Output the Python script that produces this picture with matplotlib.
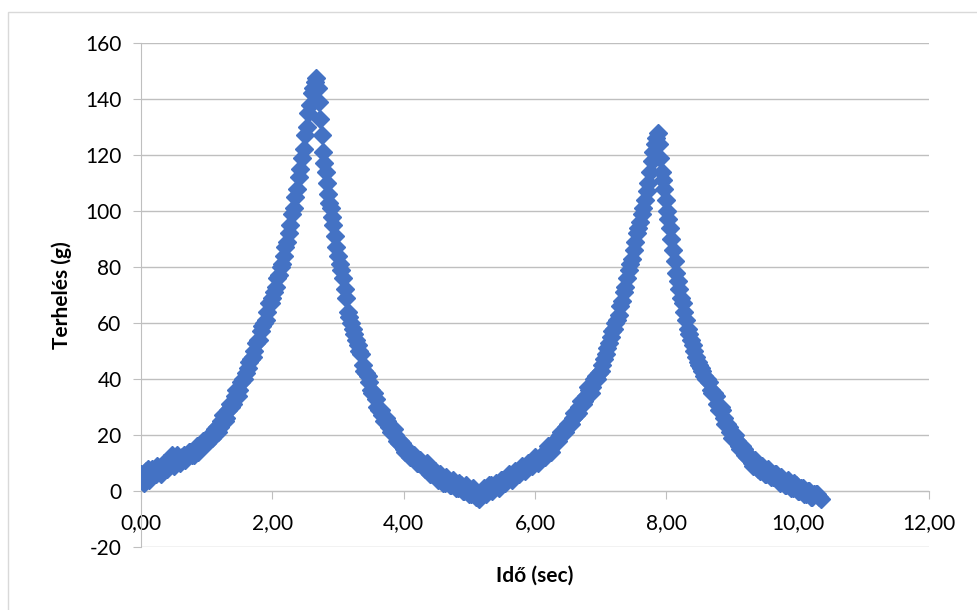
import matplotlib
matplotlib.use('Agg')
import matplotlib.pyplot as plt
from matplotlib.ticker import FuncFormatter, MultipleLocator

# Time (sec) and load (g)
ido = [
    0.00, 0.05, 0.10, 0.15, 0.20, 0.25, 0.30, 0.35, 0.40, 0.45,
    0.50, 0.55, 0.60, 0.65, 0.70, 0.75, 0.80, 0.85, 0.90, 0.95,
    1.00, 1.05, 1.10, 1.15, 1.20, 1.25, 1.30, 1.35, 1.40, 1.45,
    1.50, 1.55, 1.60, 1.65, 1.70, 1.75, 1.80, 1.85, 1.90, 1.95,
    2.000, 2.025, 2.050, 2.075, 2.100, 2.125, 2.150, 2.175, 2.200, 2.225,
    2.250, 2.275, 2.300, 2.325, 2.350, 2.375, 2.400, 2.425, 2.450, 2.475,
    2.500, 2.525, 2.550, 2.575, 2.600, 2.625, 2.650, 2.670,
    2.690, 2.710, 2.730, 2.750, 2.770, 2.790, 2.810, 2.830, 2.850, 2.870,
    2.890, 2.910, 2.930, 2.950, 2.975, 3.000, 3.025, 3.050, 3.075, 3.100,
    3.125, 3.150, 3.175, 3.200, 3.225, 3.250, 3.275, 3.300,
    3.35, 3.40, 3.45, 3.50, 3.55, 3.60, 3.65, 3.70, 3.75, 3.80,
    3.85, 3.90, 3.95, 4.00, 4.05, 4.10, 4.15, 4.20, 4.25, 4.30,
    4.35, 4.40, 4.45, 4.50, 4.55, 4.60, 4.65, 4.70, 4.75, 4.80,
    4.85, 4.90, 4.95, 5.00, 5.05, 5.10, 5.15, 5.20, 5.25, 5.30,
    5.35, 5.40, 5.45, 5.50, 5.55, 5.60, 5.65, 5.70, 5.75, 5.80,
    5.85, 5.90, 5.95, 6.00, 6.05, 6.10, 6.15, 6.20, 6.25, 6.30,
    6.35, 6.40, 6.45, 6.50, 6.55, 6.60, 6.65, 6.70, 6.75, 6.80,
    6.85, 6.90, 6.95,
    7.000, 7.025, 7.050, 7.075, 7.100, 7.125, 7.150, 7.175, 7.200, 7.225,
    7.250, 7.275, 7.300, 7.325, 7.350, 7.375, 7.400, 7.425, 7.450, 7.475,
    7.500, 7.525, 7.550, 7.575, 7.600, 7.625, 7.650, 7.675, 7.700, 7.725,
    7.750, 7.775, 7.800, 7.825, 7.850, 7.870,
    7.890, 7.910, 7.930, 7.950, 7.970, 7.990, 8.010, 8.030, 8.050, 8.075,
    8.100, 8.125, 8.150, 8.175, 8.200, 8.225, 8.250, 8.275, 8.300, 8.325,
    8.350, 8.375, 8.400, 8.425, 8.450, 8.475, 8.500,
    8.55, 8.60, 8.65, 8.70, 8.75, 8.80, 8.85, 8.90, 8.95, 9.00,
    9.05, 9.10, 9.15, 9.20, 9.25, 9.30, 9.35, 9.40, 9.45, 9.50,
    9.55, 9.60, 9.65, 9.70, 9.75, 9.80, 9.85, 9.90, 9.95, 10.00,
    10.05, 10.10, 10.15, 10.20, 10.25, 10.30, 10.35,
]

terheles = [
    6, 3, 8, 5, 7, 9, 6, 10, 8, 12,
    9, 13, 10, 13, 12, 14, 13, 16, 15, 18,
    17, 20, 20, 23, 23, 27, 26, 31, 31, 36,
    36, 40, 42, 46, 48, 53, 54, 59, 61, 67,
    69, 71, 73, 76, 77, 80, 81, 84, 87, 89,
    92, 95, 99, 101, 105, 108, 112, 115, 119, 122,
    127, 130, 135, 138, 142, 144, 146, 147.5,
    144, 139, 133, 127, 121, 117, 114, 110, 106, 103,
    101, 98, 95, 91, 87, 84, 81, 79, 76, 72,
    69, 64, 62, 60, 58, 56, 54, 52,
    49, 43, 41, 36, 35, 30, 29, 25, 25, 21,
    22, 18, 18, 15, 15, 12, 13, 10, 11, 9,
    10, 6, 7, 5, 6, 3, 5, 2, 4, 1,
    3, 0, 2, -1, 1, -2, -3, 0, -1, 2,
    0, 3, 1, 4, 3, 6, 4, 7, 6, 9,
    7, 10, 9, 12, 10, 13, 12, 16, 14, 18,
    18, 21, 21, 24, 24, 28, 28, 32, 32, 37,
    35, 40, 40,
    43, 45, 47, 49, 51, 53, 55, 57, 58, 60,
    61, 63, 66, 68, 71, 73, 76, 79, 81, 83,
    86, 89, 92, 94, 96, 99, 101, 104, 107, 110,
    114, 118, 121, 124, 126, 128,
    124, 119, 114, 111, 108, 104, 100, 97, 94, 90,
    86, 82, 78, 75, 72, 69, 67, 64, 61, 58,
    56, 54, 52, 50, 48, 46, 45,
    43, 40, 39, 35, 34, 29, 29, 24, 23, 19,
    20, 16, 16, 13, 13, 10, 11, 8, 9, 6,
    8, 5, 6, 4, 5, 2, 4, 1, 3, 0,
    1, -1, 0, -2, -1, -1, -3,
]

# in-between samples of the same measurement (the dense band of the curve)
ido_koztes = [
    0.025, 0.075, 0.125, 0.175, 0.225, 0.275, 0.325, 0.375, 0.425, 0.475,
    0.525, 0.575, 0.625, 0.675, 0.725, 0.775, 0.825, 0.875, 0.925, 0.975,
    1.025, 1.075, 1.125, 1.175, 1.225, 1.275, 1.325, 1.375, 1.425, 1.475,
    1.525, 1.575, 1.625, 1.675, 1.725, 1.775, 1.825, 1.875, 1.925, 1.975,
    3.325, 3.375, 3.425, 3.475, 3.525, 3.575, 3.625, 3.675, 3.725, 3.775,
    3.825, 3.875, 3.925, 3.975, 4.025, 4.075, 4.125, 4.175, 4.225, 4.275,
    4.325, 4.375, 4.425, 4.475, 4.525, 4.575, 4.625, 4.675, 4.725, 4.775,
    4.825, 4.875, 4.925, 4.975, 5.025, 5.075, 5.125,
    5.175, 5.225, 5.275, 5.325, 5.375, 5.425, 5.475, 5.525, 5.575, 5.625,
    5.675, 5.725, 5.775, 5.825, 5.875, 5.925, 5.975, 6.025, 6.075, 6.125,
    6.175, 6.225, 6.275, 6.325, 6.375, 6.425, 6.475, 6.525, 6.575, 6.625,
    6.675, 6.725, 6.775, 6.825, 6.875, 6.925, 6.975,
    8.525, 8.575, 8.625, 8.675, 8.725, 8.775, 8.825, 8.875, 8.925, 8.975,
    9.025, 9.075, 9.125, 9.175, 9.225, 9.275, 9.325, 9.375, 9.425, 9.475,
    9.525, 9.575, 9.625, 9.675, 9.725, 9.775, 9.825, 9.875, 9.925, 9.975,
    10.025, 10.075, 10.125, 10.175, 10.225, 10.275, 10.325,
]

terheles_koztes = [
    5, 7, 4, 8, 6, 7, 9, 8, 10, 13,
    11, 11, 12, 11, 14, 13, 15, 14, 17, 17,
    19, 19, 22, 21, 25, 25, 29, 30, 34, 34,
    39, 40, 44, 47, 50, 54, 57, 60, 64, 67,
    50, 45, 42, 39, 35, 33, 29, 27, 26, 23,
    21, 20, 17, 17, 14, 14, 12, 12, 10, 10,
    8, 8, 6, 7, 4, 5, 3, 4, 2, 3,
    1, 2, 0, 1, -1, 0, -2,
    -1, 1, 0, 2, 1, 2, 4, 3, 5, 5,
    6, 6, 8, 8, 9, 10, 11, 11, 12, 13,
    14, 15, 17, 18, 20, 21, 23, 24, 26, 27,
    30, 31, 34, 36, 37, 41, 42,
    44, 41, 40, 36, 35, 31, 30, 26, 24, 21,
    19, 18, 15, 15, 12, 12, 9, 10, 7, 8,
    6, 6, 5, 6, 3, 4, 2, 3, 1, 2,
    0, 1, -1, 0, -2, -1, -2,
]

plt.rcParams['font.family'] = ['Lato', 'DejaVu Sans']

fig = plt.figure(figsize=(9.77, 6.10), dpi=100)
ax = fig.add_axes([0.1443, 0.1033, 0.8066, 0.8262])

ax.plot(ido + ido_koztes, terheles + terheles_koztes, linestyle='none',
        marker='D', markersize=9.5, color='#4472C4',
        markeredgecolor='#4472C4', zorder=3)

ax.set_xlim(0, 12)
ax.set_ylim(-20, 160)
ax.xaxis.set_major_locator(MultipleLocator(2))
ax.yaxis.set_major_locator(MultipleLocator(20))
ax.xaxis.set_major_formatter(FuncFormatter(lambda v, p: f'{v:.2f}'.replace('.', ',')))
ax.yaxis.set_major_formatter(FuncFormatter(lambda v, p: f'{v:.0f}'))

ax.grid(axis='y', color='#BFBFBF', linewidth=1.0, zorder=0)
ax.set_axisbelow(True)

for s in ['top', 'right']:
    ax.spines[s].set_visible(False)
ax.spines['bottom'].set_position(('data', 0))
ax.spines['bottom'].set_color('#BFBFBF')
ax.spines['left'].set_color('#BFBFBF')

ax.tick_params(axis='x', direction='out', length=6, color='#BFBFBF',
               labelsize=15, pad=10)
ax.tick_params(axis='y', direction='out', length=6, color='#BFBFBF',
               labelsize=15, pad=8)

ax.set_xlabel('Idő (sec)', fontsize=15, fontweight='bold')
ax.xaxis.set_label_coords(0.5, -0.037)
ax.set_ylabel('Terhelés (g)', fontsize=15, fontweight='bold')
ax.yaxis.set_label_coords(-0.088, 0.5)

# chart border
fig.patches.append(plt.Rectangle((8 / 977, -0.01), 1.0, 1 - 12 / 610 + 0.01,
                                 transform=fig.transFigure, fill=False,
                                 edgecolor='#D9D9D9', linewidth=1.0))

fig.savefig('out.png', dpi=100)
